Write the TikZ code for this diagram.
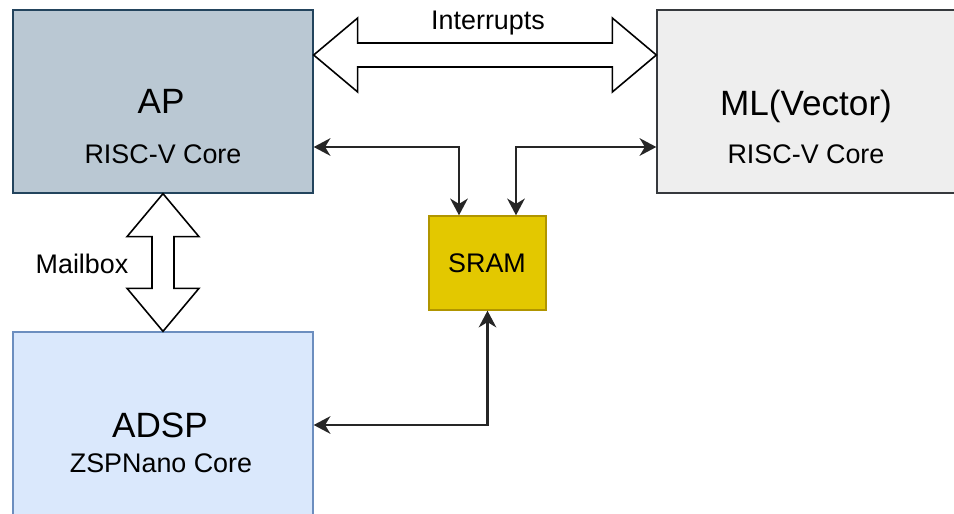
\documentclass[tikz,border=0pt]{standalone}
\usepackage{fontspec}
\setmainfont{Liberation Sans}
\usetikzlibrary{arrows.meta, calc, positioning}

\definecolor{apfill}{HTML}{BAC8D3}
\definecolor{apline}{HTML}{23445D}
\definecolor{mlfill}{HTML}{EEEEEE}
\definecolor{mlline}{HTML}{36393D}
\definecolor{dspfill}{HTML}{DAE8FC}
\definecolor{dspline}{HTML}{6C8EBF}
\definecolor{sramfill}{HTML}{E3C800}
\definecolor{sramline}{HTML}{B09500}

\tikzset{
    corebox/.style={draw, line width=0.8pt, minimum width=6cm, minimum height=3.66cm, inner sep=0pt},
    bigtext/.style={font=\fontsize{20pt}{24pt}\selectfont, anchor=base, inner sep=0pt},
    smalltext/.style={font=\fontsize{15.3pt}{18pt}\selectfont, anchor=base, inner sep=0pt},
    blockarrow/.style={draw=black, fill=white, line width=0.9pt, line join=miter},
    link/.style={draw=black!85, line width=1.3pt, {Stealth[length=9.5pt,width=10pt,inset=3pt]}-{Stealth[length=9.5pt,width=10pt,inset=3pt]}}
}

\begin{document}
\begin{tikzpicture}[x=0.02cm, y=-0.02cm]
        \useasboundingbox (0,0) rectangle (954,514);
        \clip (0,0) rectangle (954,514);
        % Cores
        \node[corebox, fill=apfill, draw=apline] (ap) at (163,101.5) {};
        \node[corebox, fill=mlfill, draw=mlline] (ml) at (807,101.5) {};
        \node[corebox, fill=dspfill, draw=dspline] (adsp) at (163,423.5) {};
        % Shared memory
        \node[draw=sramline, fill=sramfill, line width=0.8pt, minimum width=2.34cm, minimum height=1.88cm, inner sep=0pt] (sram) at (487.5,263) {};
        % Core names
        \node[bigtext] (apname) at (161,113) {AP};
        \node[smalltext] (apcore) at (163,163) {RISC-V Core};
        \node[bigtext] (mlname) at (806,115) {ML(Vector)};
        \node[smalltext] (mlcore) at (806,163) {RISC-V Core};
        \node[bigtext] (adspname) at (160,437) {ADSP};
        \node[smalltext] (adspcore) at (161,472) {ZSPNano Core};
        \node[smalltext] (sramname) at (487,272) {SRAM};
        % Interrupts block arrow
        \coordinate (irqL) at (ap.east |- 0,55);
        \coordinate (irqR) at (ml.west |- 0,55);
        \draw[blockarrow] (irqL) -- ($(irqL)+(44,-37)$) -- ($(irqL)+(44,-12)$) -- ($(irqR)+(-44,-12)$)
            -- ($(irqR)+(-44,-37)$) -- (irqR) -- ($(irqR)+(-44,37)$) -- ($(irqR)+(-44,12)$)
            -- ($(irqL)+(44,12)$) -- ($(irqL)+(44,37)$) -- cycle;
        \node[smalltext] (irqtext) at (488,29) {Interrupts};
        % Mailbox block arrow
        \coordinate (mbT) at (ap.south);
        \coordinate (mbB) at (adsp.north);
        \draw[blockarrow] (mbT) -- ($(mbT)+(36,43)$) -- ($(mbT)+(11,43)$) -- ($(mbB)+(11,-43)$)
            -- ($(mbB)+(36,-43)$) -- (mbB) -- ($(mbB)+(-36,-43)$) -- ($(mbB)+(-11,-43)$)
            -- ($(mbT)+(-11,43)$) -- ($(mbT)+(-36,43)$) -- cycle;
        \node[smalltext] (mbtext) at (82,273) {Mailbox};
        % Memory buses
        \draw[link] (ap.east |- 0,147) -| ($(sram.north)+(-28.5,0)$);
        \draw[link] (ml.west |- 0,147) -| ($(sram.north)+(28.5,0)$);
        \draw[link] (adsp.east |- 0,425) -| (sram.south);
    \end{tikzpicture}
\end{document}
